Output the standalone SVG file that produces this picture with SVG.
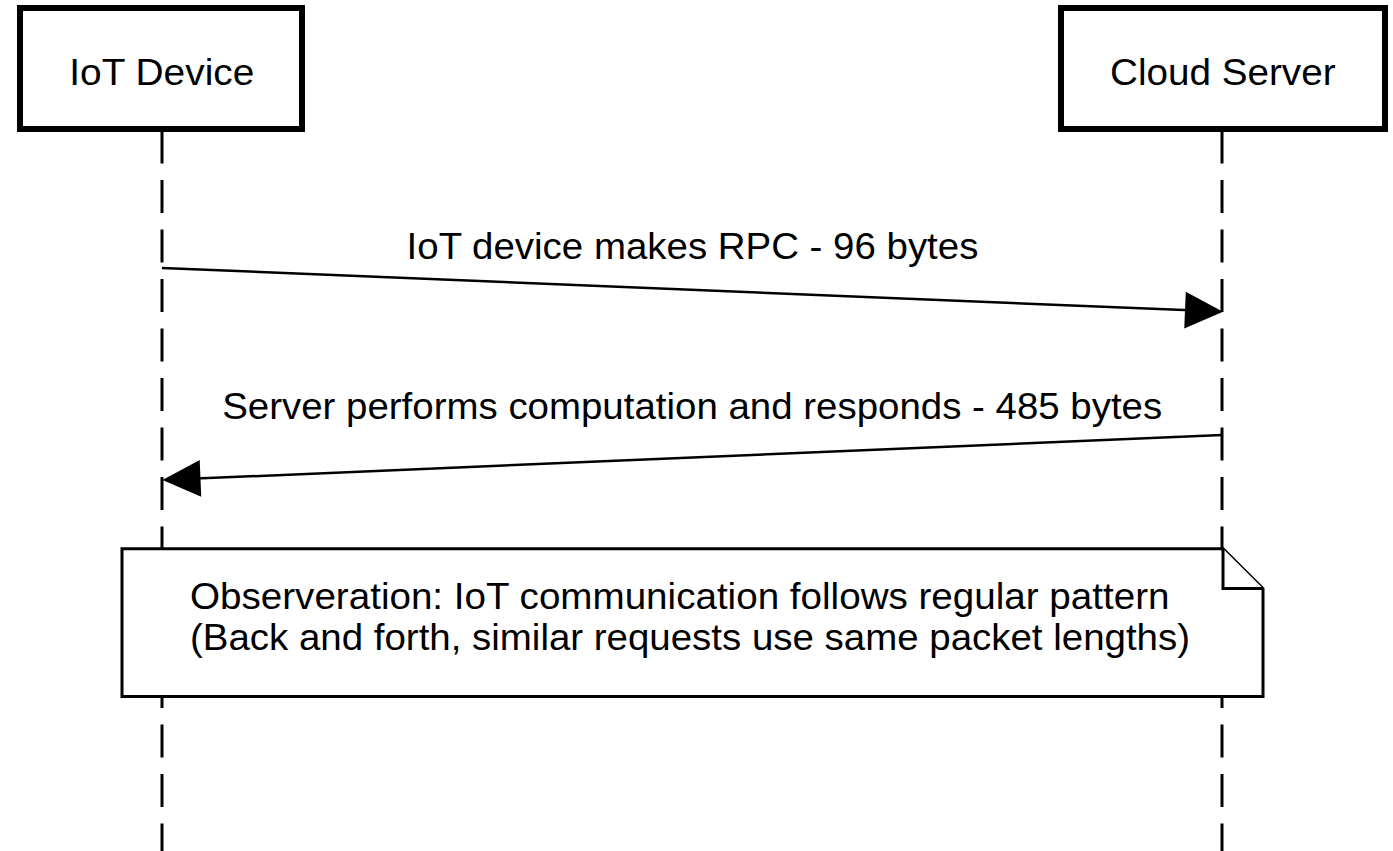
<svg xmlns="http://www.w3.org/2000/svg" width="1393" height="851" viewBox="0 0 1393 851">
  <style>
    .label { font-family: "Liberation Sans", Arial, Helvetica, sans-serif; font-size: 36px; fill: #000; }
    .actor { fill: #fff; stroke: #000; stroke-width: 6; }
    .lifeline { stroke: #000; stroke-width: 3; stroke-dasharray: 33 16.5; fill: none; }
    .msg { stroke: #000; stroke-width: 2.5; fill: none; }
    .head { fill: #000; stroke: none; }
    .note { fill: #fff; stroke: #000; stroke-width: 3; stroke-linejoin: miter; }
  </style>
  <rect width="1393" height="851" fill="#fff"/>

  <!-- lifelines -->
  <g id="lifelines">
    <line class="lifeline" x1="162" y1="130.5" x2="162" y2="860"/>
    <line class="lifeline" x1="1222" y1="130.5" x2="1222" y2="860"/>
  </g>

  <!-- participants -->
  <g id="iot-device">
    <rect class="actor" x="20" y="8" width="282" height="121"/>
    <text class="label" x="69.3" y="85" textLength="185" lengthAdjust="spacingAndGlyphs">IoT Device</text>
  </g>
  <g id="cloud-server">
    <rect class="actor" x="1061" y="8" width="324" height="121"/>
    <text class="label" x="1110" y="85" textLength="225.5" lengthAdjust="spacingAndGlyphs">Cloud Server</text>
  </g>

  <!-- messages -->
  <g id="connectors">
    <g id="msg-request">
      <line class="msg" x1="162" y1="268" x2="1190" y2="310.3"/>
      <polygon class="head" points="1223,311.7 1184.27,328.62 1185.79,291.66"/>
      <text class="label" x="406.6" y="259" textLength="571.8" lengthAdjust="spacingAndGlyphs">IoT device makes RPC - 96 bytes</text>
    </g>
    <g id="msg-response">
      <line class="msg" x1="1222" y1="435" x2="196" y2="478.6"/>
      <polygon class="head" points="162.5,480 201.25,496.87 199.68,459.91"/>
      <text class="label" x="222.2" y="419" textLength="940" lengthAdjust="spacingAndGlyphs">Server performs computation and responds - 485 bytes</text>
    </g>
  </g>

  <!-- note spanning both lifelines -->
  <g id="observation-note">
    <path class="note" d="M122,548.7 H1223 L1263,588.5 V696.5 H122 Z"/>
    <path class="note" d="M1223,548.7 V588.5 H1263" fill="none"/>
    <text class="label" x="190" y="608.5" textLength="979.5" lengthAdjust="spacingAndGlyphs">Observeration: IoT communication follows regular pattern</text>
    <text class="label" x="190" y="650" textLength="1000" lengthAdjust="spacingAndGlyphs">(Back and forth, similar requests use same packet lengths)</text>
  </g>
</svg>
